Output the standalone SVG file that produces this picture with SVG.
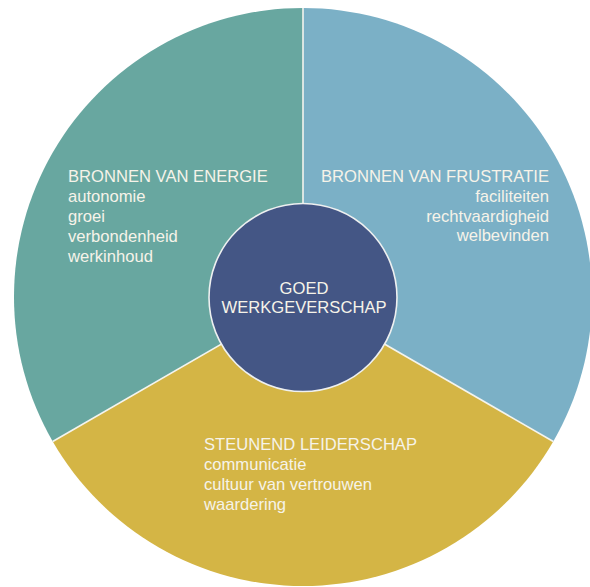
<svg xmlns="http://www.w3.org/2000/svg" width="590" height="587" viewBox="0 0 590 587">
  <style>
    .lbl { font-family: "Liberation Sans", Arial, sans-serif; font-size: 16.6px; fill: #f6f3e9; }
    .mid { text-anchor: middle; }
    .end { text-anchor: end; }
    .divider { stroke: #f4f4ee; stroke-width: 1.6; fill: none; }
  </style>
  <rect width="590" height="587" fill="#ffffff"/>

  <!-- Sector: energy sources -->
  <g id="energie">
    <path d="M303,297 L303,8 A289,289 0 0,0 52.72,441.5 Z" fill="#68a7a0"/>
    <text class="lbl" x="68" y="182">BRONNEN VAN ENERGIE</text>
    <text class="lbl" x="68" y="202">autonomie</text>
    <text class="lbl" x="68" y="222">groei</text>
    <text class="lbl" x="68" y="242">verbondenheid</text>
    <text class="lbl" x="68" y="262">werkinhoud</text>
  </g>

  <!-- Sector: frustration sources -->
  <g id="frustratie">
    <path d="M303,297 L303,8 A289,289 0 0,1 553.28,441.5 Z" fill="#7bb0c6"/>
    <text class="lbl end" x="549" y="182">BRONNEN VAN FRUSTRATIE</text>
    <text class="lbl end" x="549" y="202">faciliteiten</text>
    <text class="lbl end" x="549" y="221.5">rechtvaardigheid</text>
    <text class="lbl end" x="549" y="241">welbevinden</text>
  </g>

  <!-- Sector: supportive leadership -->
  <g id="leiderschap">
    <path d="M303,297 L52.72,441.5 A289,289 0 0,0 553.28,441.5 Z" fill="#d4b545"/>
    <text class="lbl" x="204" y="449.5">STEUNEND LEIDERSCHAP</text>
    <text class="lbl" x="204" y="469.5">communicatie</text>
    <text class="lbl" x="204" y="489.5">cultuur van vertrouwen</text>
    <text class="lbl" x="204" y="509.5">waardering</text>
  </g>

  <!-- Sector boundaries -->
  <g id="connectors">
    <line class="divider" x1="303" y1="297" x2="303" y2="8"/>
    <line class="divider" x1="303" y1="297" x2="52.72" y2="441.5"/>
    <line class="divider" x1="303" y1="297" x2="553.28" y2="441.5"/>
  </g>

  <!-- Centre hub -->
  <g id="werkgeverschap">
    <circle cx="303" cy="297.5" r="94" fill="#445685" stroke="#eef0f0" stroke-width="1.6"/>
    <text class="lbl mid" x="304" y="294">GOED</text>
    <text class="lbl mid" x="304" y="312.5">WERKGEVERSCHAP</text>
  </g>
</svg>
